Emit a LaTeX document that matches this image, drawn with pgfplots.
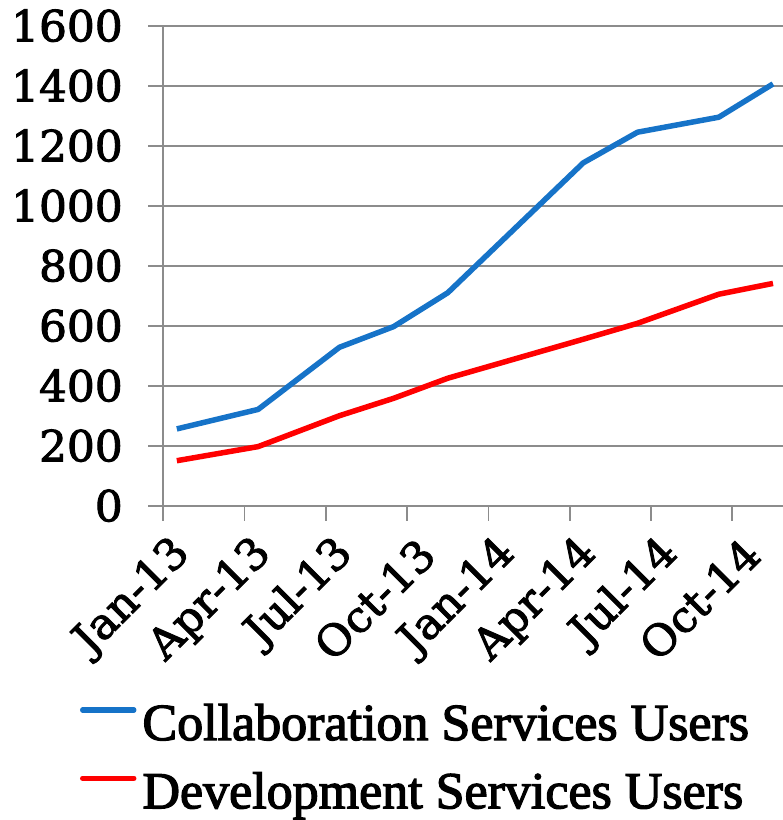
\documentclass[border=0pt]{standalone}
\usepackage{fontspec}
\setmainfont{DejaVu Serif}
\newfontfamily\tickfont[FakeStretch=1.02,FakeBold=2.2]{DejaVu Serif}
\newfontfamily\legfont[FakeBold=2.5]{Liberation Serif}
\usepackage{pgfplots}
\pgfplotsset{compat=1.18}
\definecolor{cblue}{RGB}{22,115,200}
\definecolor{gridgray}{RGB}{140,140,140}
\begin{document}
\begin{tikzpicture}
\useasboundingbox (-163.3pt,-314.3pt) rectangle (619.7pt,505.7pt);
\begin{axis}[
  at={(0pt,0pt)}, anchor=south west,
  scale only axis, width=619.2pt, height=480pt,
  xmin=0, xmax=22.85, ymin=0, ymax=1600,
  axis lines*=left,
  axis line style={gridgray, line width=2pt},
  tick style={gridgray, line width=1.8pt},
  tick align=outside, major tick length=15pt,
  ytick={0,200,...,1600},
  xtick={0,3,6,9,12,15,18,21},
  xticklabels={Jan-13,Apr-13,Jul-13,Oct-13,Jan-14,Apr-14,Jul-14,Oct-14},
  ymajorgrids, grid style={gridgray, line width=1.8pt},
  /pgf/number format/assume math mode=true,
  /pgf/number format/1000 sep={},
  ticklabel style={font=\tickfont\fontsize{43}{50}\selectfont},
  yticklabel style={xshift=-22pt},
  xticklabel style={xshift=20pt, yshift=-26pt, rotate=45, anchor=east, inner sep=0pt},
  legend style={at={(axis description cs:-0.13776,-0.40896)}, anchor=north west,
    draw=none, fill=none, inner sep=0pt, outer sep=0pt,
    font=\legfont\fontsize{52}{60}\selectfont,
    nodes={inner sep=0pt, text height=38pt, text depth=11pt},
    row sep=19.3pt, column sep=4pt},
  legend cell align=left,
  legend image code/.code={\draw[#1,line cap=round] (2pt,16.5pt) -- (53pt,16.5pt); \path (0pt,0pt) (55pt,0pt);},
]
\addplot[cblue, line width=5.5pt, line join=round] coordinates {
 (0.5,256) (3.5,321) (6.5,528) (8.5,597) (10.5,710) (15.5,1143) (17.5,1245) (20.5,1295) (22.5,1406)};
\addlegendentry{Collaboration Services Users}
\addplot[red, line width=5.5pt, line join=round] coordinates {
 (0.5,150) (3.5,197) (6.5,300) (8.5,358) (10.5,425) (15.5,555) (17.5,608) (20.5,705) (22.5,741)};
\addlegendentry{Development Services Users}
\end{axis}
\end{tikzpicture}
\end{document}
